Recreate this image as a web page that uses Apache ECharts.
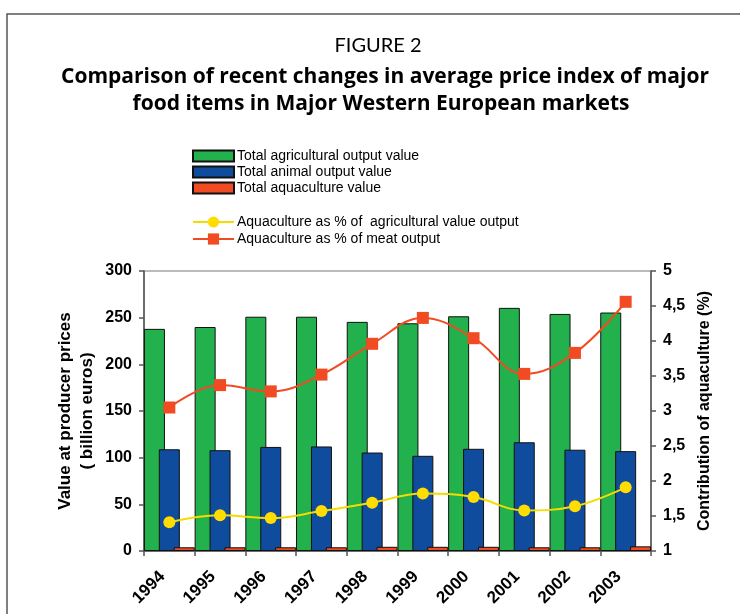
<!DOCTYPE html>
<html>
<head>
<meta charset="utf-8">
<script src="https://cdn.jsdelivr.net/npm/echarts@6/dist/echarts.min.js"></script>
<style>
  html, body { margin: 0; padding: 0; background: #fff; }
  #chart { width: 740px; height: 614px; }
</style>
</head>
<body>
<div id="chart"></div>
<script>
// data
const years = ['1994', '1995', '1996', '1997', '1998', '1999', '2000', '2001', '2002', '2003']
const agriValue = [238, 240, 251, 251, 245.5, 244, 251.5, 260.5, 254, 255.5]
const animalValue = [109, 108, 111.5, 112, 105.5, 102, 109.5, 116.5, 108.5, 107]
const aquaValue = [4, 4, 4, 4, 4.5, 4.5, 4.5, 4, 4, 5]
const aquaPctAgri = [1.41, 1.51, 1.47, 1.57, 1.69, 1.82, 1.77, 1.58, 1.64, 1.91]
const aquaPctMeat = [3.05, 3.37, 3.28, 3.52, 3.96, 4.33, 4.04, 3.53, 3.83, 4.56]

const chart = echarts.init(document.getElementById('chart'))

const axisFont = { fontFamily: 'Liberation Sans', fontWeight: 'bold', fontSize: 16, color: '#000' }
const barBorder = { borderColor: '#111', borderWidth: 1 }
const legendText = { fontFamily: 'Liberation Sans', fontSize: 14, color: '#000', lineHeight: 16, padding: [0, 0, 0, -2] }

const option = {
  animation: false,
  graphic: [
    // frame around the figure
    { type: 'rect', shape: { x: 7, y: 14, width: 760, height: 640 },
      style: { fill: 'none', stroke: '#555', lineWidth: 1.5 }, silent: true },
    { type: 'text', x: 378, y: 46,
      style: { text: 'FIGURE 2', font: '20px Lato', fill: '#000', align: 'center', verticalAlign: 'middle' } },
    { type: 'text', x: 385, y: 77,
      style: { text: 'Comparison of recent changes in average price index of major', font: 'bold 21px "Open Sans"', fill: '#000', align: 'center', verticalAlign: 'middle' } },
    { type: 'text', x: 381, y: 104,
      style: { text: 'food items in Major Western European markets', font: 'bold 21px "Open Sans"', fill: '#000', align: 'center', verticalAlign: 'middle' } }
  ],
  legend: [
    {
      data: ['Total agricultural output value', 'Total animal output value', 'Total aquaculture value'],
      orient: 'vertical',
      left: 192, top: 148, padding: 0,
      icon: 'rect',
      itemWidth: 41, itemHeight: 11, itemGap: 0,
      textStyle: legendText
    },
    {
      data: ['Aquaculture as % of  agricultural value output', 'Aquaculture as % of meat output'],
      orient: 'vertical',
      left: 192, top: 214, padding: 0,
      itemWidth: 41, itemHeight: 14, itemGap: 1,
      textStyle: legendText
    }
  ],
  grid: {
    left: 144, right: 89, top: 271, bottom: 63,
    show: true, borderColor: '#777', borderWidth: 1, backgroundColor: 'transparent'
  },
  xAxis: {
    type: 'category',
    data: years,
    boundaryGap: true,
    axisLine: { lineStyle: { color: '#555', width: 1.5 } },
    axisTick: { show: true, length: 5, lineStyle: { color: '#555', width: 1.5 } },
    axisLabel: Object.assign({ rotate: 45, margin: 16, padding: [0, 10, 0, 0] }, axisFont, { fontSize: 17 })
  },
  yAxis: [
    {
      type: 'value', min: 0, max: 300, interval: 50,
      name: 'Value at producer prices\n( billion euros)',
      nameLocation: 'middle', nameGap: 46, nameRotate: 90, nameMoveOverlap: false,
      nameTextStyle: { fontFamily: 'Liberation Sans', fontWeight: 'bold', fontSize: 17, color: '#000', lineHeight: 22 },
      axisLine: { show: true, lineStyle: { color: '#555', width: 1.5 } },
      axisTick: { show: true, length: 5, lineStyle: { color: '#555', width: 1.5 } },
      splitLine: { show: false },
      axisLabel: Object.assign({ margin: 12 }, axisFont)
    },
    {
      type: 'value', min: 1, max: 5, interval: 0.5,
      name: 'Contribution of aquaculture (%)',
      nameLocation: 'middle', nameGap: 45, nameRotate: 90,
      nameTextStyle: { fontFamily: 'Liberation Sans', fontWeight: 'bold', fontSize: 16, color: '#000' },
      axisLine: { show: true, lineStyle: { color: '#555', width: 1.5 } },
      axisTick: { show: true, length: 5, lineStyle: { color: '#555', width: 1.5 } },
      splitLine: { show: false },
      axisLabel: Object.assign({
        margin: 12,
        formatter: v => String(v).replace('.', ',')
      }, axisFont)
    }
  ],
  series: [
    {
      name: 'Total agricultural output value', type: 'bar', data: agriValue,
      barWidth: 21, barGap: '-29%',
      itemStyle: Object.assign({ color: '#22b14c' }, barBorder)
    },
    {
      name: 'Total animal output value', type: 'bar', data: animalValue,
      barWidth: 21, barGap: '-29%',
      itemStyle: Object.assign({ color: '#0f4c9e' }, barBorder)
    },
    {
      name: 'Total aquaculture value', type: 'bar', data: aquaValue,
      barWidth: 21, barGap: '-29%',
      itemStyle: Object.assign({ color: '#f04b23' }, barBorder)
    },
    {
      name: 'Aquaculture as % of  agricultural value output', type: 'line', yAxisIndex: 1,
      data: aquaPctAgri, smooth: 0.4, z: 5,
      symbol: 'circle', symbolSize: 12,
      lineStyle: { color: '#f5dc00', width: 2 },
      itemStyle: { color: '#ffdd00' }
    },
    {
      name: 'Aquaculture as % of meat output', type: 'line', yAxisIndex: 1,
      data: aquaPctMeat, smooth: 0.4, z: 5,
      symbol: 'rect', symbolSize: 12,
      lineStyle: { color: '#f04b23', width: 2 },
      itemStyle: { color: '#f04b23' }
    }
  ]
}

chart.setOption(option)
</script>
</body>
</html>
